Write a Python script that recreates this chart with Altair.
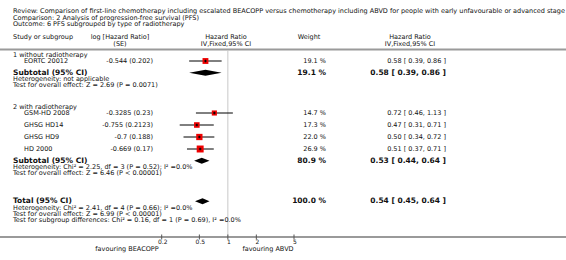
import altair as alt
import pandas as pd

# ---------------- data ----------------
review_text = ("Review:  Comparison of first-line chemotherapy including escalated BEACOPP versus "
               "chemotherapy including ABVD for people with early unfavourable or advanced stage Hodgkin lymphoma")
comparison_text = "Comparison:  2 Analysis of progression-free survival (PFS)"
outcome_text = "Outcome:  6 PFS subgrouped by type of radiotherapy"

group_names = ["1 without radiotherapy", "2 with radiotherapy"]
study_names = ["EORTC 20012", "GSM-HD 2008", "GHSG HD14", "GHSG HD9", "HD 2000"]
study_group = [0, 1, 1, 1, 1]
study_loghr = ["-0.544 (0.202)", "-0.3285 (0.23)", "-0.755 (0.2123)", "-0.7 (0.188)", "-0.669 (0.17)"]
study_weight = [19.1, 14.7, 17.3, 22.0, 26.9]
study_hr = [0.58, 0.72, 0.47, 0.50, 0.51]
study_lo = [0.39, 0.46, 0.31, 0.34, 0.37]
study_hi = [0.86, 1.13, 0.71, 0.72, 0.71]

sub_weight = [19.1, 80.9]
sub_hr = [0.58, 0.53]
sub_lo = [0.39, 0.44]
sub_hi = [0.86, 0.64]
sub_het = ["Heterogeneity: not applicable",
           "Heterogeneity: Chi\u00b2 = 2.25, df = 3 (P = 0.52); I\u00b2 =0.0%"]
sub_test = ["Test for overall effect: Z = 2.69 (P = 0.0071)",
            "Test for overall effect: Z = 6.46 (P < 0.00001)"]

total_weight = 100.0
total_hr = 0.54
total_lo = 0.45
total_hi = 0.64
total_notes = ["Heterogeneity: Chi\u00b2 = 2.41, df = 4 (P = 0.66); I\u00b2 =0.0%",
               "Test for overall effect: Z = 6.99 (P < 0.00001)",
               "Test for subgroup differences: Chi\u00b2 = 0.16, df = 1 (P = 0.69), I\u00b2 =0.0%"]

tick_values = [0.2, 0.5, 1, 2, 5]
tick_labels = ["0.2", "0.5", "1", "2", "5"]
fav_left = "favouring BEACOPP"
fav_right = "favouring ABVD"

# ---------------- style / layout ----------------
FONT = "DejaVu Sans"
TXT = "#111111"
SMALL = 6.5
BIG = 7.5
W, H = 566, 260

X_LEFT = 13
X_STUDY = 24
X_LOGHR = 153
X_LOGHR_HEAD = 120
X_PLOT_HEAD = 226
X_WEIGHT = 326
X_WEIGHT_HEAD = 309
X_HR = 446
X_HR_HEAD = 410

yscale = alt.Scale(domain=[0, H], range=[0, H], nice=False, zero=False)
xscale = alt.Scale(type="log", domain=[0.2, 5], range=[161.7, 294], nice=False)
Y = alt.Y("y:Q", scale=yscale, axis=None)

# compute row positions
y_review, y_comp, y_outc = 11, 17.5, 24
y_head1, y_head2 = 37, 43.5
y_hline = 49.5

study_y = [None] * len(study_names)
group_y, sub_y, het_y, test_y = [], [], [], []
y = 55
for g in range(len(group_names)):
    group_y.append(y)
    y += 6
    first = True
    for i, sg in enumerate(study_group):
        if sg != g:
            continue
        if not first:
            y += 12
        study_y[i] = y
        first = False
    y += 11.8
    sub_y.append(y)
    y += 6.5
    het_y.append(y)
    y += 6
    test_y.append(y)
    y += 21.7
y_total = test_y[-1] + 28
y_notes = [y_total + 6.5, y_total + 12.5, y_total + 18.5]
y_axis = 237
y_ticklab = 241.5
y_fav = 248.5


def txt(labels, ys, x, align="left", size=SMALL, bold=False):
    df = pd.DataFrame({"label": labels, "y": ys})
    return alt.Chart(df).mark_text(
        align=align, baseline="middle", fontSize=size, font=FONT,
        fontWeight="bold" if bold else "normal", color=TXT
    ).encode(x=alt.value(x), y=Y, text="label:N")


layers = []

# header text
layers.append(txt([review_text, comparison_text, outcome_text], [y_review, y_comp, y_outc], X_LEFT))
layers.append(txt(["Study or subgroup"], [y_head1], X_LEFT))
layers.append(txt(["log [Hazard Ratio]", "(SE)"], [y_head1, y_head2], X_LOGHR_HEAD, align="center"))
layers.append(txt(["Hazard Ratio", "IV,Fixed,95% CI"], [y_head1, y_head2], X_PLOT_HEAD, align="center"))
layers.append(txt(["Weight"], [y_head1], X_WEIGHT_HEAD, align="center"))
layers.append(txt(["Hazard Ratio", "IV,Fixed,95% CI"], [y_head1, y_head2], X_HR_HEAD, align="center"))

# horizontal rules (header separator, axis line)
hr_df = pd.DataFrame({"y": [y_hline, y_axis]})
layers.append(alt.Chart(hr_df).mark_rule(color="#9a9a9a", strokeWidth=2).encode(
    x=alt.value(0), x2=alt.value(W), y=Y))

# reference line at 1
ref_df = pd.DataFrame({"v": [1], "y": [y_hline + 1], "y2": [y_axis - 1]})
layers.append(alt.Chart(ref_df).mark_rule(color="#c8c8c8", strokeWidth=1).encode(
    x=alt.X("v:Q", scale=xscale, axis=None), y=Y, y2="y2:Q"))

# group headers, study labels
layers.append(txt(group_names, group_y, X_LEFT))
layers.append(txt(study_names, study_y, X_STUDY))
layers.append(txt(study_loghr, study_y, X_LOGHR, align="right"))
layers.append(txt([f"{w:.1f} %" for w in study_weight], study_y, X_WEIGHT, align="right"))
layers.append(txt([f"{h:.2f} [ {l:.2f}, {u:.2f} ]" for h, l, u in zip(study_hr, study_lo, study_hi)],
                  study_y, X_HR, align="right"))

# subtotals
layers.append(txt(["Subtotal (95% CI)"] * len(sub_y), sub_y, X_LEFT, size=BIG, bold=True))
layers.append(txt([f"{w:.1f} %" for w in sub_weight], sub_y, X_WEIGHT, align="right", size=BIG, bold=True))
layers.append(txt([f"{h:.2f} [ {l:.2f}, {u:.2f} ]" for h, l, u in zip(sub_hr, sub_lo, sub_hi)],
                  sub_y, X_HR, align="right", size=BIG, bold=True))
layers.append(txt(sub_het, het_y, X_LEFT))
layers.append(txt(sub_test, test_y, X_LEFT))

# total
layers.append(txt(["Total (95% CI)"], [y_total], X_LEFT, size=BIG, bold=True))
layers.append(txt([f"{total_weight:.1f} %"], [y_total], X_WEIGHT, align="right", size=BIG, bold=True))
layers.append(txt([f"{total_hr:.2f} [ {total_lo:.2f}, {total_hi:.2f} ]"], [y_total], X_HR,
                  align="right", size=BIG, bold=True))
layers.append(txt(total_notes, y_notes, X_LEFT))

# study CI lines, squares, centre marks
st_df = pd.DataFrame({"hr": study_hr, "lo": study_lo, "hi": study_hi,
                      "w": study_weight, "y": study_y})
layers.append(alt.Chart(st_df).mark_rule(color="#000000", strokeWidth=1).encode(
    x=alt.X("lo:Q", scale=xscale, axis=None), x2="hi:Q", y=Y))
layers.append(alt.Chart(st_df).mark_square(color="#ee0000", opacity=1).encode(
    x=alt.X("hr:Q", scale=xscale, axis=None), y=Y,
    size=alt.Size("w:Q", scale=alt.Scale(domain=[0, 100], range=[0, 180]), legend=None)))
layers.append(alt.Chart(st_df).mark_point(shape="cross", filled=True, color="#000000", size=7, opacity=1).encode(
    x=alt.X("hr:Q", scale=xscale, axis=None), y=Y))

# diamonds
HALF = 3
d_rows = []
for k, (h, l, u, yy) in enumerate(zip(sub_hr + [total_hr], sub_lo + [total_lo],
                                     sub_hi + [total_hi], sub_y + [y_total])):
    d_rows += [{"g": k, "v": l, "y": yy, "y2": yy},
               {"g": k, "v": h, "y": yy - HALF, "y2": yy + HALF},
               {"g": k, "v": u, "y": yy, "y2": yy}]
d_df = pd.DataFrame(d_rows)
layers.append(alt.Chart(d_df).mark_area(color="#000000", opacity=1, interpolate="linear").encode(
    x=alt.X("v:Q", scale=xscale, axis=None), y=Y, y2="y2:Q", detail="g:N"))

# axis ticks and labels
tk_df = pd.DataFrame({"v": tick_values, "label": tick_labels,
                      "y": [y_axis - 2.5] * len(tick_values), "y2": [y_axis + 2.5] * len(tick_values)})
layers.append(alt.Chart(tk_df).mark_rule(color="#555555", strokeWidth=1).encode(
    x=alt.X("v:Q", scale=xscale, axis=None), y=Y, y2="y2:Q"))
tl_df = tk_df.assign(y=[y_ticklab] * len(tick_values))
layers.append(alt.Chart(tl_df).mark_text(fontSize=6, font=FONT, color=TXT, baseline="middle",
                                         align="center", dx=1).encode(
    x=alt.X("v:Q", scale=xscale, axis=None), y=Y, text="label:N"))
layers.append(txt([fav_left], [y_fav], 127, align="center"))
layers.append(txt([fav_right], [y_fav], 268, align="center"))

chart = alt.layer(*layers).properties(
    width=W, height=H, padding=0, autosize="none", background="white"
).configure_view(stroke=None)

chart.save("out.html", embed_options={"renderer": "svg", "actions": False})
